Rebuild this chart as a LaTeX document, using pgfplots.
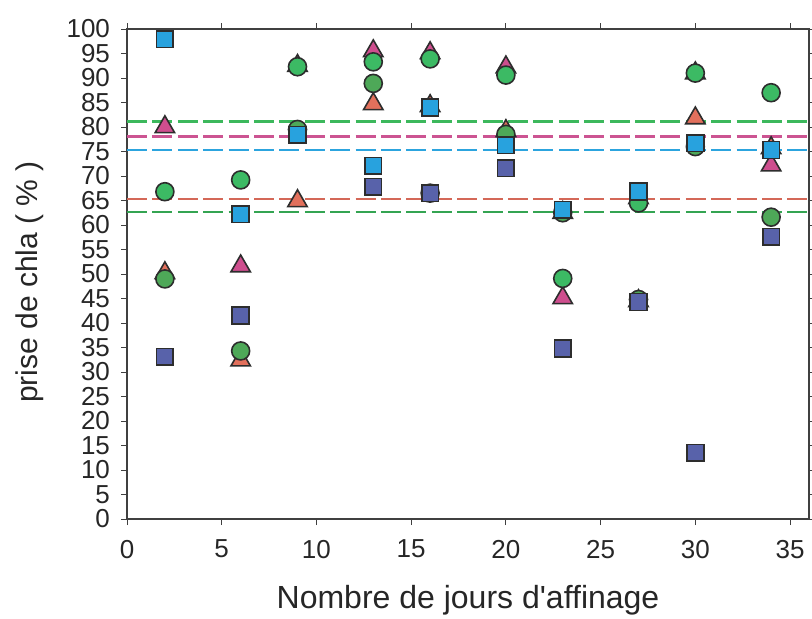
\documentclass[border=0pt]{standalone}
\usepackage{pgfplots}
\pgfplotsset{compat=1.18}
\usepackage{fontspec}
\setmainfont{Liberation Sans}
\definecolor{gA}{RGB}{60,186,100}
\definecolor{gB}{RGB}{78,168,88}
\definecolor{lblue}{RGB}{40,162,222}
\definecolor{dblue}{RGB}{88,98,170}
\definecolor{pinkc}{RGB}{206,78,142}
\definecolor{orangec}{RGB}{226,112,92}
\definecolor{lgreen}{RGB}{60,184,92}
\definecolor{lpink}{RGB}{204,84,146}
\definecolor{lbl}{RGB}{44,164,222}
\definecolor{lred}{RGB}{212,104,88}
\definecolor{lgreen2}{RGB}{52,164,82}
\definecolor{edge}{RGB}{45,45,45}
\begin{document}
\begin{tikzpicture}
\begin{axis}[
  scale only axis, width=341pt, height=245pt,
  xmin=0, xmax=36, ymin=0, ymax=100,
  xtick={0,5,...,35}, ytick={0,5,...,100},
  tick align=outside, major tick length=3pt,
  axis line style={draw=black!75, line width=0.6pt},
  tick style={black!75, line width=0.5pt},
  ticklabel style={font=\fontsize{13}{13}\selectfont, text=black!85},
  /pgf/number format/assume math mode=true,
  xticklabel style={yshift=-4pt},
  yticklabel style={xshift=-2pt},
  xlabel={Nombre de jours d\textquotesingle affinage},
  ylabel={prise de chla ( \% )},
  xlabel style={at={(axis description cs:0.5,-0.165)}, anchor=center, font=\fontsize{16}{16}\selectfont, text=black!85},
  ylabel style={at={(axis description cs:-0.142,0.484)}, anchor=center, rotate=0, font=\fontsize{15}{15}\selectfont, text=black!85},
  clip=false,
]
\coordinate (O) at (rel axis cs:0,0);
\coordinate (T) at (rel axis cs:1,1);
% mean lines
\addplot[draw=lgreen, line width=1.2pt, dash pattern=on 10pt off 2.7pt] coordinates {(0,81.1) (36,81.1)};
\addplot[draw=lpink, line width=1.2pt, dash pattern=on 10pt off 2.7pt] coordinates {(0,78.05) (36,78.05)};
\addplot[draw=lbl, line width=1.2pt, dash pattern=on 10pt off 2.7pt] coordinates {(0,75.25) (36,75.25)};
\addplot[draw=lred, line width=1.2pt, dash pattern=on 10pt off 2.7pt] coordinates {(0,65.3) (36,65.3)};
\addplot[draw=lgreen2, line width=1.2pt, dash pattern=on 10pt off 2.7pt] coordinates {(0,62.7) (36,62.7)};
% orange triangles
\addplot[only marks, mark=triangle*, mark size=5.6pt, mark options={fill=orangec, draw=edge, line width=0.8pt}] coordinates {
(2,50.2) (6,32.4) (9,64.9) (13,84.7) (16,84.3) (20,79.2) (23,62.5) (27,44.5) (30,81.8) (34,75.7)};
% pink triangles
\addplot[only marks, mark=triangle*, mark size=5.6pt, mark options={fill=pinkc, draw=edge, line width=0.8pt}] coordinates {
(2,80.0) (6,51.6) (9,92.5) (13,95.5) (16,95.1) (20,92.2) (23,45.1) (27,65.5) (30,91.0) (34,72.2)};
% green circles B
\addplot[only marks, mark=*, mark size=4.5pt, mark options={fill=gB, draw=edge, line width=0.8pt}] coordinates {
(2,49.0) (6,34.3) (9,79.5) (13,88.9) (16,66.5) (20,78.5) (23,62.5) (27,44.8) (30,76.0) (34,61.6)};
% green circles A
\addplot[only marks, mark=*, mark size=4.5pt, mark options={fill=gA, draw=edge, line width=0.8pt}] coordinates {
(2,66.8) (6,69.2) (9,92.3) (13,93.3) (16,93.9) (20,90.6) (23,49.1) (27,64.5) (30,91.0) (34,87.0)};
% dark blue squares
\addplot[only marks, mark=square*, mark size=4.2pt, mark options={fill=dblue, draw=edge, line width=0.8pt}] coordinates {
(2,33.1) (6,41.5) (13,67.8) (16,66.5) (20,71.6) (23,34.8) (27,44.3) (30,13.5) (34,57.6)};
% light blue squares
\addplot[only marks, mark=square*, mark size=4.2pt, mark options={fill=lblue, draw=edge, line width=0.8pt}] coordinates {
(2,97.9) (6,62.2) (9,78.4) (13,72.1) (16,84.0) (20,76.3) (23,63.1) (27,66.8) (30,76.7) (34,75.3)};
\end{axis}
\pgfresetboundingbox
\path ([xshift=-63.5pt,yshift=-49.5pt]O) rectangle ([xshift=1.5pt,yshift=14.5pt]T);
\end{tikzpicture}
\end{document}
